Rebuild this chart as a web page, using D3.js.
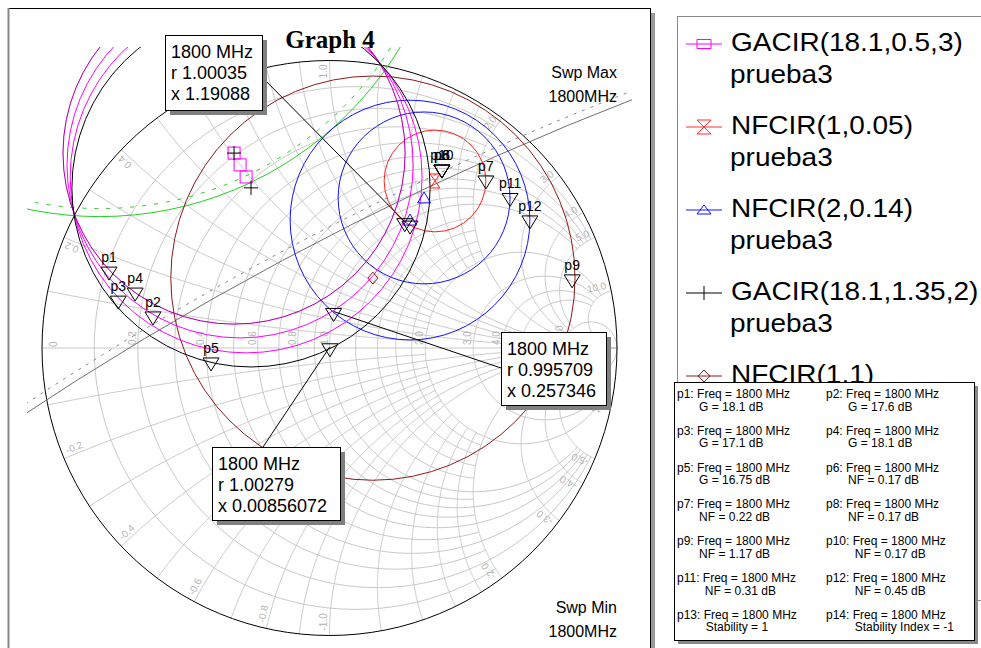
<!DOCTYPE html>
<html>
<head>
<meta charset="utf-8">
<script src="https://cdn.jsdelivr.net/npm/d3@7"></script>
<style>
  body { margin: 0; background: #fff; }
  text { font-family: "Liberation Sans", Arial, sans-serif; }
</style>
</head>
<body>
<div id="wrapper"></div>
<script>
// ---- data ----
// constant resistance / reactance lines of the Smith grid
const rGrid = [0.1, 0.2, 0.3, 0.4, 0.5, 0.6, 0.7, 0.8, 0.9, 1.0, 1.2, 1.4, 1.6, 1.8, 2.0, 3.0, 4.0, 5.0, 10.0]
const xGrid = [0.1, 0.2, 0.3, 0.4, 0.5, 0.6, 0.7, 0.8, 0.9, 1.0, 1.2, 1.4, 1.6, 1.8, 2.0, 3.0, 4.0, 5.0, 10.0]
const gridLabels = [0.2, 0.4, 0.6, 0.8, 1.0, 2.0, 3.0, 4.0, 5.0, 10.0]

// circles in the reflection plane: [centre re, centre im, radius]
const gaCircles1 = [[-0.332, 0.678, 0.595], [-0.311, 0.637, 0.602], [-0.290, 0.595, 0.612]] // 18.1, 17.6, 17.1 dB
const gaCircles2 = [[-0.332, 0.678, 0.595], [-0.273, 0.557, 0.623]]                         // 18.1, 16.75 dB
const nfCircles1 = [[0.367, 0.581, 0.177]]
const nfCircles2 = [[0.329, 0.522, 0.299], [0.280, 0.445, 0.417]]
const nfCircles3 = [[0.151, 0.243, 0.703]]
const stabCircleIn = [-0.799, 1.678, 1.221, 1.193]   // centre, radius, hatch radius
const stabCircleOut = [5.136, -9.610, 11.242, 11.270]

// markers on the traces
const markerLabels = ["p1", "p2", "p3", "p4", "p5", "p6", "p7", "p8", "p9", "p10", "p11", "p12"]
const markerRe = [-0.767, -0.614, -0.735, -0.676, -0.412, 0.391, 0.544, 0.391, 0.844, 0.391, 0.628, 0.697]
const markerIm = [0.271, 0.115, 0.170, 0.198, -0.045, 0.626, 0.588, 0.626, 0.244, 0.626, 0.527, 0.449]
const extraMarker = [0.280, 0.431]

// marker boxes (normalised impedance)
const boxFreq = "1800 MHz"
const boxR = [1.00035, 0.995709, 1.00279]
const boxX = [1.19088, 0.257346, 0.00856072]

// legend and marker readout
const legendNames = ["GACIR(18.1,0.5,3)", "NFCIR(1,0.05)", "NFCIR(2,0.14)", "GACIR(18.1,1.35,2)", "NFCIR(1,1)"]
const legendSource = "prueba3"
const readoutNames = ["p1", "p2", "p3", "p4", "p5", "p6", "p7", "p8", "p9", "p10", "p11", "p12", "p13", "p14"]
const readoutFreq = "Freq = 1800 MHz"
const readoutValues = ["G = 18.1 dB", "G = 17.6 dB", "G = 17.1 dB", "G = 18.1 dB", "G = 16.75 dB",
  "NF = 0.17 dB", "NF = 0.22 dB", "NF = 0.17 dB", "NF = 1.17 dB", "NF = 0.17 dB",
  "NF = 0.31 dB", "NF = 0.45 dB", "Stability = 1", "Stability Index = -1"]

// ---- canvas ----
const width = 981, height = 648
const svg = d3.select("#wrapper").append("svg")
  .attr("width", width).attr("height", height)

const xScale = d3.scaleLinear().domain([-1, 1]).range([42, 617])
const yScale = d3.scaleLinear().domain([-1, 1]).range([635.5, 60.5])
const rad = v => xScale(v) - xScale(0)

// frame
svg.append("rect").attr("x", 651).attr("y", 13).attr("width", 4).attr("height", 640).attr("fill", "#999")
svg.append("rect").attr("x", 8.5).attr("y", 8.5).attr("width", 642).attr("height", 660)
  .attr("fill", "#fff").attr("stroke", "#000")
svg.append("line").attr("x1", 8.5).attr("x2", 8.5).attr("y1", 8).attr("y2", 648)
  .attr("stroke", "#888").attr("stroke-width", 2)

const defs = svg.append("defs")
defs.append("clipPath").attr("id", "plotClip").append("rect")
  .attr("x", xScale(-1) - 15).attr("y", yScale(1) - 13.5)
  .attr("width", xScale(1) - xScale(-1) + 30).attr("height", 610)

// ---- Smith grid ----
const gamma = (r, x) => {
  const den = (r + 1) * (r + 1) + x * x
  return [(r * r + x * x - 1) / den, 2 * x / den]
}
const isLabel = v => gridLabels.includes(v)
const limitFor = v => v >= 10 ? Infinity : v >= 2 ? 10 : v > 1 ? 2 : isLabel(v) ? 5 : 2
const uMax = L => L === Infinity ? Math.PI / 2 - 1e-4 : Math.atan(L)
const line = d3.line().x(d => xScale(d[0])).y(d => yScale(d[1]))

const grid = svg.append("g").attr("fill", "none").attr("stroke", "#c8c8c8").attr("stroke-width", 1)
rGrid.forEach(r => {
  const um = uMax(limitFor(r))
  const pts = d3.range(0, 301).map(i => gamma(r, Math.tan(-um + 2 * um * i / 300)))
  grid.append("path").attr("d", line(pts))
})
xGrid.forEach(x => {
  const um = uMax(limitFor(x));
  [1, -1].forEach(s => {
    const pts = d3.range(0, 301).map(i => gamma(Math.tan(um * i / 300), s * x))
    grid.append("path").attr("d", line(pts))
  })
})
grid.append("line").attr("x1", xScale(-1)).attr("x2", xScale(1)).attr("y1", yScale(0)).attr("y2", yScale(0))

// grid labels
const lab = svg.append("g").attr("fill", "#b4b4b4")
  .style("font-family", "'Liberation Mono', monospace").style("font-size", "10px")
lab.append("text").attr("transform", `translate(${xScale(-1) + 15},${yScale(0) - 1}) rotate(-90)`).text("0")
gridLabels.forEach(r => {
  const g0 = (r - 1) / (r + 1)
  lab.append("text")
    .attr("transform", `translate(${xScale(g0)},${yScale(0) - 3}) rotate(-90)`)
    .attr("dy", -2).text(r.toFixed(1))
})
gridLabels.forEach(x => {
  [1, -1].forEach(s => {
    const p = gamma(0, s * x)
    const px = xScale(p[0]), py = yScale(p[1])
    let dx = xScale(0) - px, dy = yScale(0) - py
    const n = Math.hypot(dx, dy); dx /= n; dy /= n
    if (s > 0) {
      const ang = Math.atan2(-dy, -dx) * 180 / Math.PI
      lab.append("text").attr("text-anchor", "end")
        .attr("transform", `translate(${px + dx * 4},${py + dy * 4}) rotate(${ang})`)
        .attr("dy", -3).text(x.toFixed(1))
    } else {
      const ang = Math.atan2(dy, dx) * 180 / Math.PI
      lab.append("text").attr("text-anchor", "start")
        .attr("transform", `translate(${px + dx * 5},${py + dy * 5}) rotate(${ang})`)
        .attr("dy", -3).text("-" + x.toFixed(1))
    }
  })
})

// outer circle
svg.append("circle").attr("cx", xScale(0)).attr("cy", yScale(0)).attr("r", rad(1))
  .attr("fill", "none").attr("stroke", "#000")

// ---- traces ----
const traces = svg.append("g").attr("clip-path", "url(#plotClip)").attr("fill", "none")
const drawCircles = (data, color, extra) => traces.selectAll(null)
  .data(data).join("circle")
  .attr("cx", d => xScale(d[0])).attr("cy", d => yScale(d[1])).attr("r", d => rad(d[2]))
  .attr("stroke", color).call(s => extra && extra(s))

traces.append("circle").attr("cx", xScale(stabCircleOut[0])).attr("cy", yScale(stabCircleOut[1]))
  .attr("r", rad(stabCircleOut[2])).attr("stroke", "#707070")
traces.append("circle").attr("cx", xScale(stabCircleOut[0])).attr("cy", yScale(stabCircleOut[1]))
  .attr("r", rad(stabCircleOut[3])).attr("stroke", "#808080").attr("stroke-dasharray", "3,6")
traces.append("circle").attr("cx", xScale(stabCircleIn[0])).attr("cy", yScale(stabCircleIn[1]))
  .attr("r", rad(stabCircleIn[2])).attr("stroke", "#22d022")
traces.append("circle").attr("cx", xScale(stabCircleIn[0])).attr("cy", yScale(stabCircleIn[1]))
  .attr("r", rad(stabCircleIn[3])).attr("stroke", "#22d022").attr("stroke-dasharray", "4,8")

drawCircles(nfCircles3, "#8b1a1a")
drawCircles(nfCircles2, "#1010ff")
drawCircles(nfCircles1, "#ff2020")
drawCircles(gaCircles1, "#ff00ff")
drawCircles(gaCircles2, "#000", s => s.attr("stroke-opacity", d => d === gaCircles2[0] ? 0.3 : 1))

// centre symbols
const sym = svg.append("g").attr("fill", "none").attr("stroke-width", 1)
gaCircles1.forEach(c => sym.append("rect").attr("x", xScale(c[0]) - 6).attr("y", yScale(c[1]) - 6)
  .attr("width", 12).attr("height", 12).attr("stroke", "#ff00ff"))
gaCircles2.forEach(c => sym.append("path")
  .attr("d", `M${xScale(c[0]) - 7},${yScale(c[1])}h14M${xScale(c[0])},${yScale(c[1]) - 7}v14`).attr("stroke", "#000"))
nfCircles1.forEach(c => {
  const x = xScale(c[0]), y = yScale(c[1])
  sym.append("path").attr("d", `M${x - 5},${y - 7}h10L${x - 5},${y + 7}h10Z`).attr("stroke", "#ff2020")
})
nfCircles2.forEach(c => {
  const x = xScale(c[0]), y = yScale(c[1])
  sym.append("path").attr("d", `M${x - 6.5},${y + 5}h13L${x},${y - 6}Z`).attr("stroke", "#1010ff")
})
nfCircles3.forEach(c => {
  const x = xScale(c[0]), y = yScale(c[1])
  sym.append("path").attr("d", `M${x},${y - 6}L${x + 5},${y}L${x},${y + 6}L${x - 5},${y}Z`).attr("stroke", "#8b1a1a")
})

// ---- markers ----
const mk = svg.append("g")
const tri = (x, y) => mk.append("path").attr("d", `M${x - 8},${y - 3}h16L${x},${y + 10}Z`)
  .attr("fill", "none").attr("stroke", "#000")
markerLabels.forEach((name, i) => {
  const x = xScale(markerRe[i]), y = yScale(markerIm[i])
  tri(x, y)
  mk.append("text").attr("x", x).attr("y", y - 8).attr("text-anchor", "middle")
    .style("font-size", "14px").text(name)
})
tri(xScale(extraMarker[0]), yScale(extraMarker[1]))

const boxPos = [
  { x: 165, y: 35, w: 97, h: 75, lx: 262, ly: 77 },
  { x: 501, y: 332, w: 105, h: 73, lx: 501, ly: 368 },
  { x: 212, y: 447, w: 128, h: 73, lx: 263, ly: 447 },
]
boxR.forEach((r, i) => {
  const g = gamma(r, boxX[i])
  const px = xScale(g[0]), py = yScale(g[1])
  tri(px, py)
  const b = boxPos[i]
  mk.append("line").attr("x1", b.lx).attr("y1", b.ly).attr("x2", px).attr("y2", py).attr("stroke", "#000")
})
boxR.forEach((r, i) => {
  const b = boxPos[i]
  mk.append("rect").attr("x", b.x + 5).attr("y", b.y + 5).attr("width", b.w).attr("height", b.h).attr("fill", "#808080")
  mk.append("rect").attr("x", b.x + 0.5).attr("y", b.y + 0.5).attr("width", b.w).attr("height", b.h)
    .attr("fill", "#fff").attr("stroke", "#000")
  const lines = [boxFreq, "r " + r, "x " + boxX[i]]
  lines.forEach((t, j) => mk.append("text").attr("x", b.x + 6).attr("y", b.y + 23 + j * 21)
    .style("font-size", "18px").text(t))
})

// ---- titles ----
svg.append("text").attr("x", 330).attr("y", 48).attr("text-anchor", "middle")
  .style("font-family", "'Liberation Serif', 'Times New Roman', serif").style("font-weight", "bold")
  .style("font-size", "25px").text("Graph 4")
const swp = [["Swp Max", 78], ["1800MHz", 102], ["Swp Min", 613], ["1800MHz", 637]]
swp.forEach(s => svg.append("text").attr("x", 617).attr("y", s[1]).attr("text-anchor", "end")
  .style("font-size", "16px").text(s[0]))

// ---- legend ----
const legend = svg.append("g")
legend.append("rect").attr("x", 677.5).attr("y", 16.5).attr("width", 330).attr("height", 584)
  .attr("fill", "#fff").attr("stroke", "#888")
const legendColors = ["#ff00ff", "#ff3030", "#1010ff", "#000", "#8b1a1a"]
legendNames.forEach((name, i) => {
  const y = 44 + i * 83
  const c = legendColors[i]
  legend.append("line").attr("x1", 686).attr("x2", 722).attr("y1", y).attr("y2", y).attr("stroke", c)
  const s = legend.append("path").attr("fill", "none").attr("stroke", c)
  if (i === 0) s.attr("d", `M697,${y - 4.5}h14v9h-14Z`)
  if (i === 1) s.attr("d", `M697,${y - 7}h14L697,${y + 7}h14Z`)
  if (i === 2) s.attr("d", `M697,${y + 4}h14L704,${y - 5}Z`)
  if (i === 3) s.attr("d", `M704,${y - 7}v14`)
  if (i === 4) s.attr("d", `M704,${y - 6}L710,${y}L704,${y + 6}L698,${y}Z`)
  legend.append("text").attr("transform", `translate(731,${y + 7}) scale(1.12,1)`)
    .style("font-size", "25px").text(name)
  legend.append("text").attr("transform", `translate(730,${y + 39}) scale(1.12,1)`)
    .style("font-size", "25px").text(legendSource)
})

// ---- marker readout ----
const ro = svg.append("g")
ro.append("rect").attr("x", 678).attr("y", 386).attr("width", 300).attr("height", 258).attr("fill", "#888")
ro.append("rect").attr("x", 674.5).attr("y", 382.5).attr("width", 300).attr("height", 258)
  .attr("fill", "#fff").attr("stroke", "#000")
readoutNames.forEach((name, i) => {
  const x = i % 2 === 0 ? 677 : 826
  const y = 398 + Math.floor(i / 2) * 36.8
  const t = ro.append("text").attr("x", x).attr("y", y).style("font-size", "12px").text(name + ":")
  const w = t.node().getComputedTextLength() + 3.4
  ro.append("text").attr("x", x + w).attr("y", y).style("font-size", "12px").text(readoutFreq)
  ro.append("text").attr("x", x + w + 2).attr("y", y + 12.5).style("font-size", "12px").text(readoutValues[i])
})
</script>
</body>
</html>
